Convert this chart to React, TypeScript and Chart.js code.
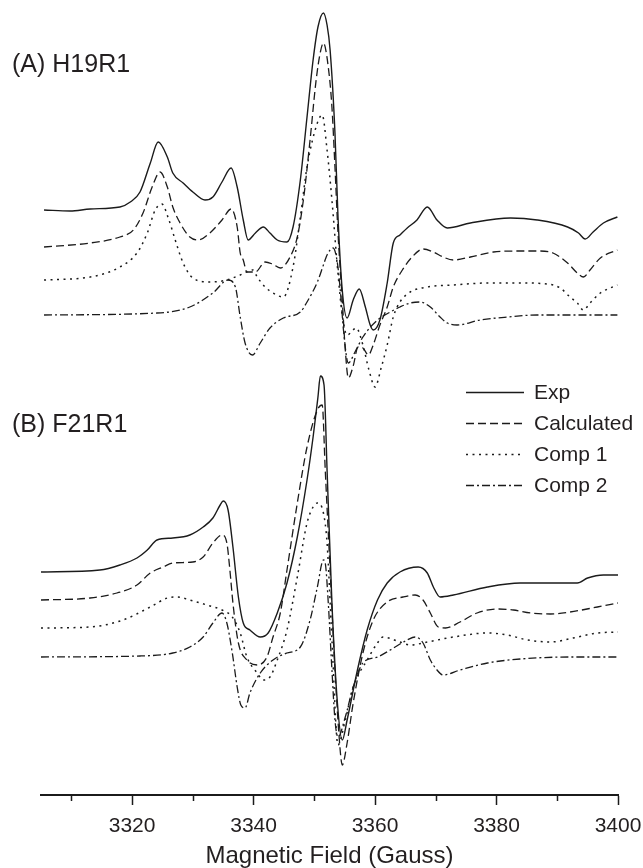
import React, { useEffect, useRef } from "react";
import { Chart, registerables } from "chart.js";

Chart.register(...registerables);

// ---------- Data (field in Gauss, signal in arbitrary units incl. stacking offset) ----------
// Panel A: H19R1
const FIELD_EXP_A = [3305.5, 3309.8, 3313.1, 3318.0, 3319.7, 3321.3, 3323.0, 3324.3, 3325.8, 3326.7, 3328.4, 3330.0, 3332.0, 3333.3, 3334.8, 3336.3, 3337.3, 3338.3, 3339.1, 3340.3, 3341.6, 3342.7, 3343.9, 3345.5, 3346.5, 3347.7, 3348.8, 3349.8, 3350.6, 3351.5, 3352.1, 3352.6, 3353.4, 3353.9, 3354.6, 3355.4, 3356.4, 3357.4, 3358.4, 3359.2, 3359.7, 3360.8, 3362.0, 3363.0, 3364.1, 3365.3, 3366.9, 3368.6, 3370.2, 3371.9, 3375.7, 3382.3, 3386.7, 3391.7, 3393.5, 3394.6, 3395.9, 3397.6, 3399.9];
const SIG_EXP_A = [58.5, 58.4, 58.6, 58.8, 59.3, 60.3, 63.2, 65.3, 63.8, 62.2, 61.2, 60.3, 59.5, 59.8, 61.3, 62.7, 60.8, 57.5, 55.5, 56.2, 56.8, 56.2, 55.5, 55.3, 56.8, 61.5, 67.8, 73.5, 76.8, 78.2, 77.0, 74.5, 66.2, 57.8, 50.5, 47.7, 49.5, 50.6, 48.8, 47.0, 46.5, 47.5, 51.2, 55.2, 56.0, 56.7, 57.5, 58.8, 57.5, 56.7, 57.2, 57.7, 57.5, 56.8, 56.2, 55.6, 56.3, 57.2, 57.8];

const FIELD_CALC_A = [3305.5, 3313.1, 3318.0, 3320.2, 3321.8, 3323.3, 3324.6, 3325.8, 3326.7, 3327.9, 3329.5, 3330.9, 3332.8, 3334.8, 3336.3, 3337.3, 3337.8, 3338.3, 3338.9, 3340.3, 3341.9, 3343.1, 3344.4, 3346.0, 3347.2, 3348.2, 3349.3, 3350.3, 3351.0, 3351.5, 3352.3, 3352.9, 3353.4, 3353.9, 3354.6, 3355.1, 3355.6, 3356.4, 3357.2, 3358.0, 3358.9, 3359.7, 3360.8, 3362.0, 3363.0, 3364.5, 3366.1, 3367.9, 3369.6, 3371.2, 3372.9, 3375.7, 3379.5, 3383.9, 3387.2, 3389.3, 3391.7, 3393.3, 3394.3, 3395.4, 3397.1, 3399.9];
const SIG_CALC_A = [54.8, 55.2, 55.8, 56.5, 58.2, 60.8, 62.3, 60.8, 58.8, 57.2, 55.8, 55.5, 56.2, 57.5, 58.6, 56.8, 54.2, 53.5, 52.3, 52.3, 53.3, 53.1, 52.7, 53.8, 55.8, 59.5, 65.5, 71.5, 74.3, 75.2, 72.8, 68.8, 62.8, 56.2, 49.5, 44.5, 41.7, 42.9, 44.8, 44.7, 44.0, 45.0, 47.0, 48.8, 50.8, 52.5, 53.8, 54.6, 54.3, 53.8, 53.5, 53.8, 54.3, 54.4, 54.4, 54.2, 53.2, 52.2, 51.8, 52.5, 53.7, 54.5];

const FIELD_COMP1_A = [3305.5, 3313.1, 3318.0, 3320.8, 3322.5, 3323.8, 3324.9, 3325.9, 3327.1, 3328.4, 3330.0, 3332.8, 3335.6, 3337.8, 3339.9, 3340.6, 3341.9, 3343.2, 3344.9, 3346.5, 3347.7, 3348.8, 3350.5, 3351.3, 3352.1, 3352.9, 3353.8, 3354.6, 3355.4, 3356.9, 3358.0, 3359.0, 3360.0, 3361.0, 3362.0, 3363.0, 3364.1, 3365.8, 3368.6, 3372.9, 3378.5, 3383.9, 3388.4, 3390.5, 3392.1, 3393.3, 3394.3, 3395.4, 3397.1, 3399.9];
const SIG_COMP1_A = [51.5, 51.8, 52.8, 54.2, 56.2, 58.5, 59.1, 57.8, 55.5, 53.2, 51.7, 51.3, 51.5, 52.0, 52.5, 51.8, 50.8, 50.2, 49.8, 52.8, 57.8, 62.8, 67.2, 68.0, 64.5, 59.5, 52.8, 48.0, 46.0, 46.7, 45.0, 42.5, 40.8, 42.7, 45.0, 47.8, 49.3, 50.3, 50.8, 51.0, 51.2, 51.2, 51.1, 50.7, 49.8, 49.2, 48.5, 49.2, 50.2, 51.0];

const FIELD_COMP2_A = [3305.5, 3324.1, 3329.5, 3333.3, 3335.8, 3337.0, 3337.8, 3338.6, 3339.8, 3341.1, 3342.7, 3344.9, 3347.7, 3348.8, 3350.5, 3351.5, 3352.1, 3353.1, 3353.8, 3354.3, 3354.8, 3355.6, 3356.7, 3358.0, 3360.4, 3362.5, 3364.1, 3365.8, 3367.4, 3369.1, 3370.7, 3371.9, 3373.5, 3377.3, 3381.8, 3386.7, 3399.9];
const SIG_COMP2_A = [48.0, 48.2, 48.8, 50.2, 51.5, 50.8, 47.8, 45.2, 44.0, 45.2, 46.7, 47.7, 48.3, 49.3, 51.3, 53.0, 54.0, 54.7, 53.2, 50.3, 46.5, 43.2, 44.3, 45.8, 47.5, 48.3, 48.8, 49.2, 49.3, 48.8, 47.8, 47.2, 47.0, 47.5, 47.8, 48.0, 48.0];

// Panel B: F21R1
const FIELD_EXP_B = [3305.0, 3314.7, 3318.0, 3320.8, 3322.5, 3324.1, 3326.7, 3329.5, 3331.7, 3333.3, 3334.5, 3335.0, 3335.8, 3336.6, 3337.5, 3338.3, 3339.4, 3341.1, 3342.4, 3343.9, 3345.5, 3347.2, 3348.8, 3349.8, 3350.6, 3351.0, 3351.6, 3352.1, 3352.9, 3353.8, 3354.6, 3355.4, 3357.1, 3358.7, 3360.4, 3362.0, 3364.1, 3367.1, 3368.6, 3369.6, 3370.7, 3372.9, 3378.5, 3383.9, 3389.3, 3393.3, 3395.0, 3397.6, 3400.0];
const SIG_EXP_B = [22.3, 22.5, 23.0, 23.7, 24.5, 25.5, 25.7, 26.0, 26.8, 27.7, 29.0, 29.4, 28.5, 24.8, 19.8, 17.2, 16.5, 15.8, 16.2, 18.2, 21.2, 25.8, 31.5, 35.8, 39.8, 41.9, 41.0, 32.5, 19.2, 9.2, 5.5, 7.5, 12.5, 16.5, 19.5, 21.2, 22.3, 22.8, 22.2, 20.8, 19.8, 20.0, 20.8, 21.2, 21.2, 21.2, 21.7, 22.0, 22.0];

const FIELD_CALC_B = [3305.0, 3313.1, 3317.5, 3320.8, 3323.0, 3325.1, 3326.7, 3330.0, 3331.7, 3333.3, 3334.8, 3335.6, 3336.1, 3336.6, 3337.5, 3338.9, 3340.6, 3342.2, 3343.2, 3344.4, 3345.5, 3347.2, 3348.8, 3350.5, 3351.3, 3351.8, 3352.6, 3353.4, 3354.3, 3354.6, 3355.4, 3356.4, 3358.0, 3359.7, 3362.0, 3364.6, 3366.6, 3367.9, 3369.1, 3370.4, 3371.6, 3374.0, 3376.8, 3380.1, 3382.8, 3385.6, 3388.9, 3392.1, 3396.6, 3400.0];
const SIG_CALC_B = [19.5, 19.7, 20.2, 21.0, 22.2, 22.8, 23.2, 23.3, 23.8, 25.2, 26.0, 25.2, 22.5, 19.2, 15.2, 13.5, 13.0, 13.8, 15.8, 18.2, 22.5, 29.2, 34.8, 38.5, 39.0, 32.5, 22.5, 12.5, 4.2, 3.0, 5.2, 9.2, 14.2, 17.5, 19.3, 19.8, 20.0, 19.5, 18.2, 16.8, 16.7, 17.3, 18.2, 18.6, 18.5, 18.2, 18.1, 18.3, 18.8, 19.2];

const FIELD_COMP1_B = [3305.0, 3313.1, 3318.5, 3323.0, 3325.8, 3327.4, 3329.5, 3332.3, 3334.8, 3336.5, 3337.8, 3338.9, 3340.6, 3341.6, 3342.7, 3343.9, 3345.5, 3347.2, 3348.8, 3349.8, 3350.5, 3351.5, 3352.1, 3352.9, 3353.9, 3355.1, 3356.4, 3358.7, 3360.4, 3361.3, 3364.1, 3365.8, 3368.6, 3372.9, 3378.5, 3381.8, 3385.1, 3388.9, 3392.6, 3396.6, 3400.0];
const SIG_COMP1_B = [16.7, 16.8, 17.5, 18.8, 19.7, 19.8, 19.5, 19.0, 18.5, 17.8, 16.2, 13.8, 12.2, 11.5, 11.8, 13.5, 16.5, 21.8, 27.2, 28.8, 29.2, 28.2, 25.2, 15.5, 5.0, 7.5, 10.8, 13.5, 15.2, 15.8, 15.3, 15.0, 15.3, 15.8, 16.2, 16.0, 15.5, 15.3, 15.7, 16.2, 16.3];

const FIELD_COMP2_B = [3305.0, 3321.3, 3326.7, 3329.5, 3331.7, 3333.3, 3334.8, 3335.6, 3336.5, 3337.3, 3337.9, 3338.6, 3339.4, 3341.1, 3343.2, 3345.5, 3347.7, 3349.3, 3350.5, 3351.5, 3351.8, 3352.3, 3352.9, 3353.4, 3353.9, 3355.1, 3356.4, 3358.0, 3360.4, 3362.5, 3365.3, 3366.6, 3367.9, 3369.1, 3370.2, 3371.2, 3374.0, 3378.5, 3383.9, 3392.1, 3400.0];
const SIG_COMP2_B = [13.8, 13.9, 14.2, 14.8, 15.8, 17.2, 18.2, 17.2, 14.2, 10.8, 9.0, 8.7, 10.2, 12.2, 13.5, 14.2, 14.8, 17.5, 20.8, 23.5, 23.2, 19.2, 12.5, 7.5, 5.8, 7.8, 10.8, 13.2, 13.8, 14.5, 15.5, 15.8, 15.2, 13.5, 12.5, 12.0, 12.5, 13.2, 13.6, 13.8, 13.8];

// Axis / labels
const X_MIN = 3305;
const X_MAX = 3400;
const MAJOR_STEP = 20;
const MINOR_TICKS = [3310, 3330, 3350, 3370, 3390];
const X_TITLE = "Magnetic Field (Gauss)";
const PANEL_LABELS = ["(A) H19R1", "(B) F21R1"];
const LEGEND_LABELS = ["Exp", "Calculated", "Comp 1", "Comp 2"];

// ---------- Styles ----------
const INK = "#1b1b1b";
const TEXT = "#231f20";
const FONT = "'Liberation Sans', Arial, Helvetica, sans-serif";
const DASHES: number[][] = [[], [8, 4], [2, 4.5], [8, 3, 2, 3]];
const WIDTHS = [1.4, 1.3, 1.5, 1.3];

function pts(xs: number[], ys: number[]) {
  return xs.map((x, i) => ({ x, y: ys[i] }));
}

const overlayPlugin = {
  id: "overlay",
  afterDraw(chart: any) {
    const { ctx } = chart;
    const xs = chart.scales.x;
    const bottom = chart.chartArea.bottom;
    ctx.save();
    // minor ticks
    ctx.strokeStyle = INK;
    ctx.lineWidth = 1.5;
    MINOR_TICKS.forEach((v) => {
      const px = Math.round(xs.getPixelForValue(v)) + 0.5;
      ctx.beginPath();
      ctx.moveTo(px, bottom);
      ctx.lineTo(px, bottom + 6);
      ctx.stroke();
    });
    // panel labels
    ctx.fillStyle = TEXT;
    ctx.font = `25px ${FONT}`;
    ctx.textBaseline = "middle";
    ctx.textAlign = "left";
    ctx.fillText(PANEL_LABELS[0], 12, 65);
    ctx.fillText(PANEL_LABELS[1], 12, 425);
    // legend
    ctx.font = `21px ${FONT}`;
    const rows = [392, 423, 454, 485];
    LEGEND_LABELS.forEach((lab, i) => {
      const y = rows[i];
      ctx.beginPath();
      ctx.setLineDash(DASHES[i]);
      ctx.lineWidth = WIDTHS[i];
      ctx.strokeStyle = INK;
      ctx.moveTo(466, y + 0.5);
      ctx.lineTo(524, y + 0.5);
      ctx.stroke();
      ctx.setLineDash([]);
      ctx.fillText(lab, 534, y + 1);
    });
    ctx.restore();
  },
};

export default function App() {
  const ref = useRef<HTMLCanvasElement | null>(null);
  useEffect(() => {
    if (!ref.current) return;
    const series = [
      [FIELD_EXP_A, SIG_EXP_A, 0],
      [FIELD_CALC_A, SIG_CALC_A, 1],
      [FIELD_COMP1_A, SIG_COMP1_A, 2],
      [FIELD_COMP2_A, SIG_COMP2_A, 3],
      [FIELD_EXP_B, SIG_EXP_B, 0],
      [FIELD_CALC_B, SIG_CALC_B, 1],
      [FIELD_COMP1_B, SIG_COMP1_B, 2],
      [FIELD_COMP2_B, SIG_COMP2_B, 3],
    ] as [number[], number[], number][];
    const datasets = series.map(([xs, ys, k], i) => ({
      label: LEGEND_LABELS[k] + (i < 4 ? " A" : " B"),
      data: pts(xs, ys),
      borderColor: INK,
      borderWidth: WIDTHS[k],
      borderDash: DASHES[k],
      pointRadius: 0,
      fill: false,
      cubicInterpolationMode: "monotone" as const,
    }));
    const chart = new Chart(ref.current, {
      type: "line",
      data: { datasets },
      options: {
        animation: false,
        responsive: false,
        layout: { padding: { left: 41, right: 25, top: 5, bottom: 0 } },
        plugins: { legend: { display: false }, tooltip: { enabled: false } },
        scales: {
          x: {
            type: "linear",
            min: X_MIN,
            max: X_MAX,
            afterFit: (s: any) => {
              s.height = 73;
              s.paddingLeft = 0;
              s.paddingRight = 0;
            },
            border: { display: true, color: INK, width: 2 },
            grid: {
              display: true,
              drawOnChartArea: false,
              drawTicks: true,
              tickLength: 10,
              tickWidth: 1.5,
              tickColor: (c: any) =>
                c.tick && c.tick.value % MAJOR_STEP === 0 ? INK : "rgba(0,0,0,0)",
            },
            ticks: {
              stepSize: 10,
              autoSkip: false,
              maxRotation: 0,
              padding: 9,
              color: TEXT,
              font: { family: FONT, size: 21 },
              callback: (v: any) => (Number(v) % MAJOR_STEP === 0 ? String(v) : ""),
            },
            title: {
              display: true,
              text: X_TITLE,
              color: TEXT,
              font: { family: FONT, size: 24, lineHeight: 1 },
              padding: { top: 4, bottom: 0 },
            },
          },
          y: { display: false, min: 0, max: 79 },
        },
      },
      plugins: [overlayPlugin],
    });
    return () => chart.destroy();
  }, []);
  return (
    <div style={{ position: "absolute", left: 0, top: 0, width: 643, height: 868, background: "#fff" }}>
      <canvas ref={ref} width={643} height={868} style={{ display: "block" }} />
    </div>
  );
}
